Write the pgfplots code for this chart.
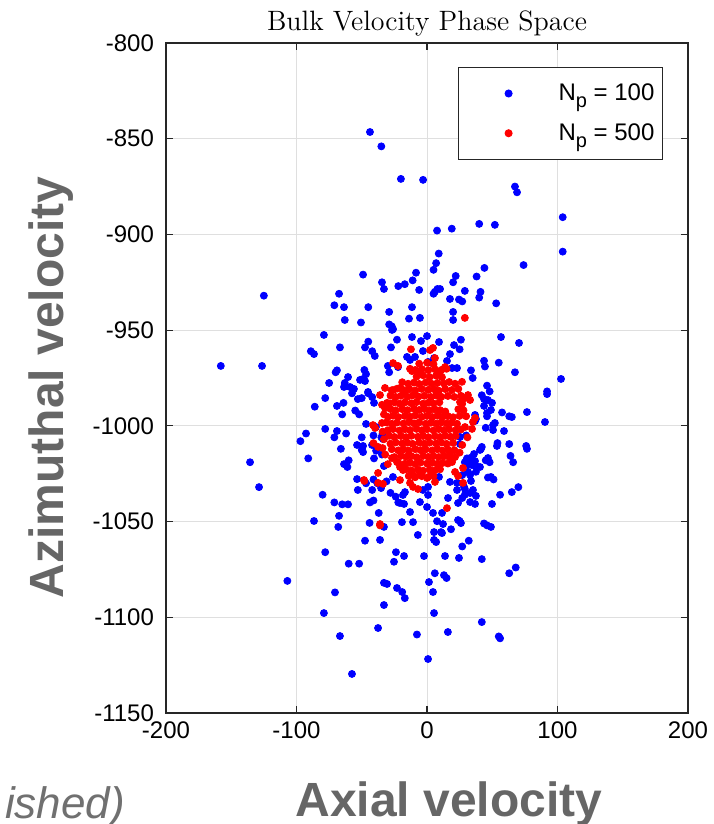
\documentclass[border=0pt]{standalone}
\usepackage{pgfplots}
\pgfplotsset{compat=1.18}
\usepackage{fontspec}
\newfontfamily\arial{Liberation Sans}
\definecolor{lblgray}{RGB}{102,102,102}
\definecolor{notegray}{RGB}{112,112,112}
\definecolor{axgray}{RGB}{38,38,38}
\definecolor{gridgray}{RGB}{223,223,223}
\pgfplotsset{dotlegend/.style={legend image code/.code={\path[draw=none,fill=none] (-23pt,0pt) -- (23pt,0pt); \draw[##1, only marks] plot coordinates {(0pt,0pt)};}}}
\begin{document}
\begin{tikzpicture}
\begin{axis}[
  width=261pt, height=335pt, scale only axis,
  xmin=-200, xmax=200, ymin=-1150, ymax=-800,
  xtick={-200,-100,0,100,200},
  ytick={-1150,-1100,-1050,-1000,-950,-900,-850,-800},
  tick align=inside, tick pos=both, major tick length=3.3pt,
  grid=major, grid style={gridgray, line width=0.5pt},
  axis line style={axgray, line width=0.6pt},
  tick style={axgray, line width=0.6pt},
  ticklabel style={font=\arial\fontsize{12}{14}\selectfont, text=black},
  xticklabel style={yshift=-1pt},
  /pgf/number format/assume math mode=true,
  /pgf/number format/1000 sep={},
  yticklabel style={xshift=-2.5pt},
  title={Bulk Velocity Phase Space},
  every axis title/.style={font=\fontsize{14}{16}\selectfont, at={(axis description cs:0.5,1)}, anchor=base, yshift=6pt},
  xlabel={Axial velocity},
  xlabel style={font=\arial\bfseries\fontsize{24}{28}\selectfont, text=lblgray, at={(axis description cs:0.542,-0.154)}, anchor=base},
  ylabel={Azimuthal velocity},
  ylabel style={font=\arial\bfseries\fontsize{24}{28}\selectfont, text=lblgray, at={(axis description cs:-0.197,0.486)}, anchor=base},
  legend style={at={(axis description cs:0.952,0.964)}, anchor=north east, draw=axgray, line width=0.5pt, fill=white,
    font=\arial\fontsize{12}{14}\selectfont, inner xsep=2pt, inner ysep=6pt, row sep=6pt},
  legend cell align=left,
]
\addplot[only marks, mark=*, mark size=1.75pt, color=blue, dotlegend]
coordinates {
(-43.7,-846.5) (-35,-854) (-20,-871) (-3,-871.5) (7.7,-898) (9,-910) (7,-915) (5,-918.5)
(-49,-921) (-8.4,-920) (-34.5,-925) (-33,-928.5) (-22,-927) (-17,-926) (-11,-924) (-6,-929)
(5,-931) (6,-930) (8,-928.5) (-67.4,-931) (-125,-932) (-71,-937) (-63.6,-938) (-45,-938)
(-29,-940.5) (-11.5,-938) (-13.8,-944) (-5.4,-943.6) (-63,-944.7) (67.4,-875) (69,-878)
(104,-891) (40,-894.5) (52,-895) (19,-897) (104,-909) (74,-916) (44,-917.5) (38,-922)
(22,-921.7) (20,-925) (10,-928.5) (29,-929.5) (41,-930) (40,-933) (17.6,-933.7) (24.5,-934)
(27,-935) (53,-936) (20,-940.5) (20,-944.7)
(-50.6,-946) (-29,-947) (-27,-948) (-26,-949.5) (-79,-952.5) (-23,-955) (-66.7,-959) (-45,-956)
(-47.5,-959) (-42,-961) (-40,-963.5) (-27.6,-959) (-89,-961) (-86.6,-962.5) (-158,-968.7)
(-126.4,-968.7) (-30,-968.7) (-29,-972) (-69,-971) (-70,-972) (-48,-970.8) (-46.7,-973)
(-49,-975.5) (-47.5,-976.6) (-60.5,-974.5) (-75,-977.6) (-63,-977.6) (-63.6,-979.7) (-59,-979.7)
(-56.7,-981) (-57.5,-983) (-56,-980.7) (-45,-983) (-42,-985) (-40.6,-988) (-78,-985.5) (-53,-986)
(-50,-985.5) (-64,-988) (-69,-989.6) (-86,-990) (-55,-992) (-52,-994) (-65,-994) (-46.7,-999)
(-78,-1001.6) (-69,-1002.7) (-71,-1006) (-92.7,-1004) (-97,-1008) (-62,-1004) (-50,-1006)
(-53.6,-1010) (-49,-1010.5) (-50,-1012.6) (-49,-1013.7) (-41,-1005) (-35,-1006) (-34,-1004)
(-66,-1012) (-91,-1017) (-135.6,-1019) (-39,-1013) (-34.5,-1015) (-40.6,-1017) (-63.6,-1020)
(-61,-1021.5) (-60,-1018) (-33,-1021) (-128.7,-1032) (-53.6,-1027.8) (-46.7,-1030) (-41,-1028)
(-38,-1030) (-31,-1029) (-53,-1033.5) (-42,-1033.5) (-80,-1036) (-28,-1035) (-24,-1037)
(-71,-1040) (-65,-1041) (-60.5,-1041) (-41,-1039) (-43.7,-1040) (-22,-1040) (-37,-1045.5)
(-67.4,-1047) (-86.6,-1049.7) (-44,-1050.7) (-68,-1052.8) (-33,-1052.8) (-47.5,-1060) (-36,-1059.6)
(26,-955) (25,-960) (56.7,-953.6) (70.5,-956.7) (43.7,-966) (44.4,-969) (55,-967) (67.4,-972)
(33.7,-971) (35,-975) (102.7,-975.5) (46,-979) (48,-982) (92,-982) (92,-983.4) (42,-984)
(43.7,-986) (43.7,-989.6) (49,-991.7) (57.5,-993) (63,-995) (65,-995.4) (76.6,-992.8) (46,-995)
(36.8,-997.5) (50.6,-999.6) (52,-998.5) (90.4,-998) (45,-1001) (59,-1002.7) (30,-1005) (54,-1009)
(53.6,-1010.5) (63,-1009.5) (76,-1010.5) (76.6,-1012) (42,-1011) (41.4,-1012) (36,-1014.7)
(64,-1015.7) (66,-1019) (45,-1018) (48,-1019) (30.6,-1017) (34.5,-1018) (29,-1019) (31.4,-1020)
(37.5,-1021) (37.5,-1024) (31.4,-1024) (27,-1025.7) (46.7,-1027) (49,-1026.7) (51,-1028)
(33.7,-1028.8) (29,-1033) (70,-1032) (65,-1034.6) (56,-1036) (37.5,-1036.6) (29,-1036)
(27,-1037.7) (33,-1039.8) (36.8,-1040.8) (49.8,-1040.8) (25,-1049.7) (26,-1050.8) (43.7,-1051)
(46,-1052) (49,-1052.8) (32,-1060) (27,-1063)
(-7,-1057) (5.4,-1055.5) (10.7,-1055.5) (5.4,-1059.6) (7,-1060.7) (-78,-1066) (-23.8,-1066)
(-17.6,-1068) (-60,-1072) (-52,-1072) (-25.3,-1071) (-2.3,-1068) (13.8,-1068) (-107,-1081)
(-33,-1082) (-30.6,-1082.6) (6,-1077) (1.5,-1081.6) (13,-1078) (15,-1079.5) (-23,-1084.7)
(-19,-1086.8) (4.6,-1086.8) (-70.5,-1087) (-17,-1090) (-33,-1093.6) (-79,-1097.8) (5.4,-1097.8)
(-37.5,-1105.6) (-66.7,-1109.8) (-7.7,-1109) (16,-1107.7) (0.8,-1121.8) (-57.5,-1129.6)
(11.5,-1056) (18.4,-1054) (24.5,-1069) (42,-1069.6) (63,-1077) (68,-1074) (42,-1102.5)
(55,-1110) (56,-1111)
(-26.8,-949.9) (-11.5,-953.6) (-4.6,-955.7) (0,-953.1) (9.2,-956.2) (20.7,-957.8) (17.6,-962.5)
(-15.3,-964) (-13,-965.6) (-9.2,-964) (-3.1,-960.9) (0.8,-966.6) (3.8,-967.2) (5.4,-964.6)
(-22.2,-969.3) (15.3,-966.1) (19.2,-969.8) (23,-969.8) (-51.3,-976) (-45.2,-982.3) (46.7,-986.5)
(49.8,-988) (36.8,-994.3) (37.5,-996.4) (46,-993.3) (-39.1,-1000.6) (50.6,-1002.2) (-33.7,-1006.9)
(-42.1,-1010) (40.6,-1012.6) (25.3,-1005.8) (25.3,-1009.5) (33,-1016.8) (36.8,-1018.4)
(34.5,-1020.5) (40.6,-1021.5) (46.7,-1016.8) (9.2,-1026.7) (17.6,-1029.3) (23,-1029.8)
(33,-1025.7) (-26.1,-1026.7) (-35.2,-1032.5) (0.8,-1031.9) (0.8,-1036.1) (-3.1,-1033.5)
(-18.4,-1036.1) (-16.9,-1034.6) (23,-1033.5) (28.4,-1031.9) (35.2,-1033.5) (33,-1035.1)
(-20.7,-1040.3) (-17.6,-1040.8) (-5.4,-1039.8) (0,-1042.4) (16.1,-1037.7) (23.8,-1040.3)
(-13,-1045) (4.6,-1045.5) (11.5,-1045.5) (-19.2,-1050.3) (-10.7,-1050.3) (7.7,-1049.8)
(12.3,-1051.3) (23.8,-1049.2)
};
\addlegendentry{N\raisebox{-0.55ex}{\fontsize{10}{10}\selectfont p} = 100}
\addplot[only marks, mark=*, mark size=1.75pt, color=red, dotlegend]
coordinates {
(29,-943.6) (-12.3,-960) (2.3,-960.4) (4.6,-959.3) (6.1,-964.6) (-26,-967.2) (-22.2,-968.7)
(-11.5,-971.4) (-5.4,-971.9) (10,-971.9) (13.8,-969.3) (26.8,-977) (21.5,-978) (-32.2,-980.2)
(-36,-983.9) (-26,-981.3) (-20.7,-980.2) (-16.9,-982.3) (31.4,-983.9) (29.1,-985.5) (25.3,-987.6)
(33,-986.5) (-34.5,-989) (-30.6,-988) (-32.2,-990.7) (36.8,-995.9) (35.2,-998) (-41.4,-999.6)
(-39.8,-1001.1) (-34.5,-998.5) (29.1,-1000.6) (34.5,-1001.6) (-41,-1009) (-37.5,-1011)
(-34,-1011.6) (-26.8,-1016.8) (-23,-1018.9) (-20.7,-1021.5) (-18.4,-1023.1) (17.6,-1014.2)
(21.5,-1016.3) (19.2,-1018.9) (27.6,-1022) (21.5,-1024.1) (23.8,-1026.2) (-37.5,-1024.6)
(-11.5,-1024.6) (-9.2,-1026.7) (-5.4,-1024.6) (0,-1027.2) (3.8,-1024.1) (-48.3,-1028.3)
(-37.5,-1029.8) (-33.7,-1030.3) (-48,-1028.8) (-20.7,-1028.3) (-13,-1029.8) (-10.7,-1031.9)
(-6.9,-1033) (6.1,-1029.3) (27.6,-1029.8) (15.3,-1043) (-36,-1051.3) (-36,-1052)
(-6,-967.5) (0,-967) (5,-967.8)
(-13,-970.2) (-9,-970.8) (-4,-970.3) (1,-970.9) (6,-970.4) (11,-970.8) (15,-970.2)
(-33,-994) (-34,-1003) (-33,-1007) (-32,-1015) (-30,-1020) (30,-995) (31,-1006) (27,-1010) (25,-1014)
(-8,-974.3) (-3,-973.6) (2,-974.5) (7,-973.8) (11.5,-974.6)
(-19,-977.2) (-14.5,-978) (-10,-977.4) (-6,-978.1) (-1,-977.3) (3.5,-978) (8,-977.6) (13,-977.9) (17,-977.1)
(-27,-981.4) (-23,-980.6) (-18,-981.3) (-13.5,-980.8) (-9,-981.5) (-4,-980.7) (1,-981.2) (5.5,-980.9) (9,-981.6) (14,-980.8) (19,-981.3) (24,-980.7)
(-28,-984.2) (-24,-984.9) (-20,-984.3) (-15,-984.8) (-11,-984.1) (-6.5,-984.7) (-2,-984.3) (3,-984.9) (7,-984.2) (11,-984.8) (16,-984.4) (21,-984.9) (26,-984.3)
(-29,-988.3) (-25,-987.7) (-21,-988.4) (-17,-987.8) (-12,-988.2) (-8,-987.6) (-3,-988.4) (1,-987.9) (5,-988.3) (9.5,-987.7) (27,-988.5)
(-28,-991.2) (-24,-991.9) (-19,-991.3) (-15,-991.8) (-10,-991.1) (-6,-991.7) (-2,-991.2) (2,-991.9) (6,-991.4) (10,-991.8) (14,-992.5) (24,-991.3) (28,-991.9)
(-30,-995.3) (-26,-994.7) (-22,-995.4) (-17,-994.8) (-13,-995.2) (-9,-994.6) (-4,-995.3) (0,-994.8) (4,-995.4) (8,-994.7) (12,-995.2) (16,-994.9) (20,-995.5) (25,-994.8)
(-31,-998.2) (-27,-998.9) (-23,-998.3) (-18,-998.8) (-14,-998.1) (-10,-998.7) (-6,-998.2) (-1,-998.9) (3,-998.4) (7,-998.8) (11,-998.2) (15,-998.7) (19,-998.3) (23,-998.9)
(-30,-1002.3) (-26,-1001.7) (-21,-1002.4) (-17,-1001.8) (-13,-1002.2) (-8,-1001.6) (-4,-1002.3) (0,-1001.8) (5,-1002.4) (9,-1001.7) (13,-1002.2) (17,-1001.8) (22,-1002.3) (26,-1001.9)
(-29,-1005.2) (-25,-1005.8) (-20,-1005.3) (-16,-1005.9) (-12,-1005.2) (-7,-1005.7) (-3,-1005.3) (1,-1005.9) (6,-1005.4) (10,-1005.8) (14,-1005.2) (18,-1005.7) (22,-1005.3)
(-28,-1009.3) (-24,-1008.7) (-19,-1009.2) (-15,-1008.8) (-11,-1009.4) (-6,-1008.7) (-2,-1009.3) (2,-1008.8) (7,-1009.2) (11,-1008.7) (15,-1009.4) (20,-1008.9)
(-27,-1012.2) (-22,-1012.8) (-18,-1012.3) (-14,-1012.9) (-9,-1012.2) (-5,-1012.7) (-1,-1012.3) (4,-1012.8) (8,-1012.2) (12,-1012.9) (16,-1012.4) (21,-1012.7)
(-25,-1016.3) (-20,-1015.7) (-16,-1016.2) (-12,-1015.8) (-8,-1016.4) (-3,-1015.7) (1,-1016.2) (5,-1015.8) (9,-1016.3) (13,-1015.9) (17,-1016.2)
(-22,-1019.2) (-17,-1019.8) (-13,-1019.3) (-9,-1019.9) (-5,-1019.2) (0,-1019.7) (4,-1019.3) (8,-1019.8) (12,-1019.4) (16,-1019.7)
(-16,-1022.7) (-12,-1023.3) (-7,-1022.8) (-3,-1023.4) (2,-1022.9) (6,-1023.2) (10,-1022.7)
(-14,-1026.2) (-9,-1026.8) (-4,-1026.3) (1,-1026.7) (5,-1026.2)
};
\addlegendentry{N\raisebox{-0.55ex}{\fontsize{10}{10}\selectfont p} = 500}
\coordinate (O) at (rel axis cs:0,0);
\end{axis}
\node[font=\arial\itshape\fontsize{22}{26}\selectfont, text=notegray, anchor=base east] at ([shift={(-17pt,-52.5pt)}]O) {ished)};
\pgfresetboundingbox
\path[use as bounding box] ([shift={(-83pt,-55.5pt)}]O) rectangle ++(356.5pt,412pt);
\end{tikzpicture}
\end{document}
